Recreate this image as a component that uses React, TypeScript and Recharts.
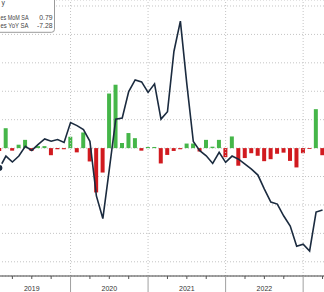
import React from "react";
import {
  ComposedChart,
  Bar,
  Line,
  XAxis,
  YAxis,
  CartesianGrid,
  ReferenceLine,
  Cell,
} from "recharts";

// existing home sales, monthly, Jan 2019 .. Mar 2023
const years = ["2019", "2020", "2021", "2022", "2023"];
const monthNames = ["Jan", "Feb", "Mar", "Apr", "May", "Jun", "Jul", "Aug", "Sep", "Oct", "Nov", "Dec"];

// MoM % change (bars)
const mom = [
  -1.0, 7.0, -0.9, 1.2, 2.9, -1.0, 0.7, 0.7, -2.5, -0.4, -0.4, 4.0,
  -1.5, 5.5, -4.7, -15.6, -8.6, 19.2, 22.3, 1.8, 5.3, 3.5, -0.9, 0.4,
  0.4, -5.4, -2.4, -1.0, -0.4, 1.6, 1.6, -1.2, 2.9, 0.5, 2.9, -3.2,
  4.1, -6.2, -3.5, -1.8, -2.7, -4.6, -3.9, -2.0, -1.6, -4.5, -6.8, -1.8,
  -0.3, 13.7, -2.5,
];

// YoY % change (line)
const yoy = [
  -7.0, -2.8, -4.9, -2.8, 0.6, -0.8, 1.3, 3.2, 2.4, 3.0, 2.0, 9.0,
  7.9, 6.5, 2.4, -16.8, -24.8, -7.5, 10.2, 10.6, 19.9, 24.0, 23.3, 19.6,
  22.6, 10.2, 12.8, 34.0, 44.7, 22.5, 2.3, -0.9, -2.7, -5.4, -1.5, -5.0,
  -2.8, -3.9, -5.6, -7.4, -9.5, -14.4, -19.0, -19.7, -23.9, -27.4, -34.5, -33.8,
  -36.2, -22.5, -21.8,
];

const yTicks = [-40, -30, -20, -10, 0, 10, 20, 30, 40, 50];
const quarterTicks = [0, 3, 6, 9, 12, 15, 18, 21, 24, 27, 30, 33, 36, 39, 42, 45, 48, 51];
const yearLines = [12, 24, 36, 48];

// legend box is cropped at the left edge in the reference, only the tails show
const legendTitle = "y";
const legendRows = [
  { label: "es MoM SA", value: "0.79" },
  { label: "es YoY SA", value: "-7.28" },
];

const data = mom.map((v, i) => ({
  t: i + 1, // bar sits at month end
  month: `${monthNames[i % 12]} ${years[Math.floor(i / 12)]}`,
  mom: v,
  yoy: yoy[i],
}));

const GREEN = "#45b649";
const RED = "#d11a1f";
const PLOT_BOTTOM = 276;

function YearTick(props: any) {
  const { x, payload } = props;
  const v = payload.value as number;
  const isYear = v % 12 === 0;
  return (
    <g>
      <line
        x1={x}
        x2={x}
        y1={PLOT_BOTTOM}
        y2={isYear ? 292 : 279}
        stroke={isYear ? "#a0a0a0" : "#555"}
        strokeWidth={1}
      />
      {v % 12 === 6 && (
        <text
          x={x}
          y={290.5}
          textAnchor="middle"
          fontSize={7}
          fontFamily="Liberation Sans, Arial, sans-serif"
          fill="#333"
        >
          {years[(v - 6) / 12]}
        </text>
      )}
    </g>
  );
}

export default function App() {
  return (
    <div
      style={{
        position: "fixed",
        left: 0,
        top: 0,
        width: 324,
        height: 292,
        overflow: "hidden",
        background: "#fff",
      }}
    >
      <div style={{ position: "absolute", left: -7.5, top: 0 }}>
        <ComposedChart
          width={336}
          height={292}
          data={data}
          margin={{ top: 0, right: 0, bottom: 0, left: 0 }}
        >
          <CartesianGrid
            vertical={false}
            stroke="#c4c4c4"
            strokeDasharray="1 2"
          />
          <XAxis
            dataKey="t"
            type="number"
            domain={[0, 52]}
            ticks={quarterTicks}
            tick={<YearTick />}
            tickLine={false}
            axisLine={{ stroke: "#444" }}
            height={16}
            interval={0}
          />
          <YAxis
            hide
            width={0}
            domain={[-45, 52.11]}
            ticks={yTicks}
            allowDataOverflow
          />
          {yearLines.map((x) => (
            <ReferenceLine
              key={x}
              x={x}
              stroke="#c4c4c4"
              strokeDasharray="1 2"
            />
          ))}
          <Bar dataKey="mom" barSize={4} isAnimationActive={false}>
            {data.map((d, i) => (
              <Cell key={i} fill={d.mom >= 0 ? GREEN : RED} />
            ))}
          </Bar>
          <Line
            type="linear"
            dataKey="yoy"
            stroke="#1b2b3f"
            strokeWidth={1.6}
            dot={false}
            isAnimationActive={false}
          />
        </ComposedChart>
      </div>
      <svg
        width={324}
        height={292}
        style={{ position: "absolute", left: 0, top: 0, pointerEvents: "none" }}
        fontFamily="Liberation Sans, Arial, sans-serif"
      >
        <rect
          x={-100}
          y={-10}
          width={154.5}
          height={42.3}
          rx={3}
          fill="#fff"
          stroke="#9a9a9a"
        />
        <text x={1.5} y={4.5} fontSize={6.8} fill="#444">
          {legendTitle}
        </text>
        {legendRows.map((r, i) => (
          <g key={r.label}>
            <text
              x={0.5}
              y={19.5 + i * 8.5}
              fontSize={6.8}
              fill="#444"
              textLength={28}
              lengthAdjust="spacingAndGlyphs"
            >
              {r.label}
            </text>
            <text x={52.5} y={19.5 + i * 8.5} textAnchor="end" fontSize={6.8} fill="#444">
              {r.value}
            </text>
          </g>
        ))}
      </svg>
    </div>
  );
}
